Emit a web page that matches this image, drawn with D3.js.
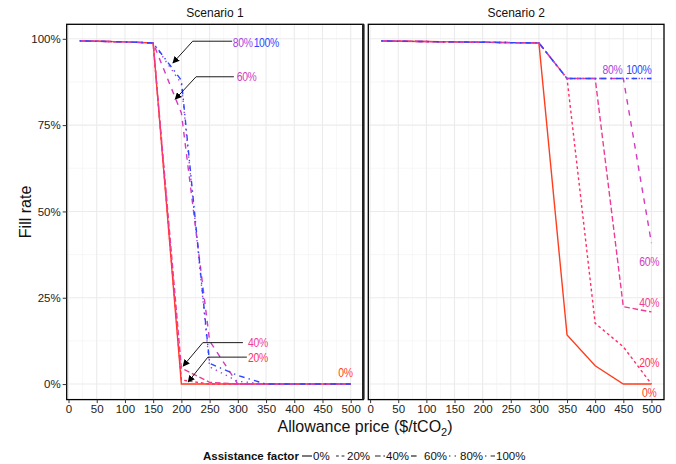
<!DOCTYPE html>
<html>
<head>
<meta charset="utf-8">
<script src="https://cdn.jsdelivr.net/npm/d3@7"></script>
<style>
  body { margin: 0; background: #fff; }
  svg { display: block; font-family: "Liberation Sans", Arial, sans-serif; }
</style>
</head>
<body>
<svg id="chart" width="676" height="464"></svg>
<script>
// price points ($/tCO2)
const prices = [20, 50, 100, 150, 200, 250, 300, 350, 400, 450, 500];
const factors = ["0%", "20%", "40%", "60%", "80%", "100%"];
const colors = ["#ff3d1f", "#ff2f66", "#ee3c96", "#d23cc0", "#a645e0", "#2e46ff"];
// ggplot linetypes: solid, 22, 42, 44, 13, 1343
const dashes = [null, "2.8,2.8", "5.6,2.8", "5.6,5.6", "1.4,4.2", "1.4,4.2,5.6,4.2"];

// fill rate (%) per assistance factor
const s1_0   = [99.4, 99.3, 99.1, 98.8, 0, 0, 0, 0, 0, 0, 0];
const s1_20  = [99.4, 99.3, 99.1, 98.8, 1.2, 0, 0, 0, 0, 0, 0];
const s1_40  = [99.4, 99.3, 99.1, 98.8, 4.6, 0.5, 0, 0, 0, 0, 0];
const s1_60  = [99.4, 99.3, 99.1, 98.8, 78.5, 12.5, 0, 0, 0, 0, 0];
const s1_80  = [99.4, 99.3, 99.1, 98.8, 87, 5, 0.8, 0, 0, 0, 0];
const s1_100 = [99.4, 99.3, 99.1, 98.8, 88, 6, 2.5, 0, 0, 0, 0];

const s2_0   = [99.4, 99.3, 99.2, 99.1, 99, 98.9, 98.8, 14.2, 5.3, 0, 0];
const s2_20  = [99.4, 99.3, 99.2, 99.1, 99, 98.9, 98.8, 88.5, 17.6, 10.8, 0];
const s2_40  = [99.4, 99.3, 99.2, 99.1, 99, 98.9, 98.8, 88.5, 88.5, 22.4, 20.9];
const s2_60  = [99.4, 99.3, 99.2, 99.1, 99, 98.9, 98.8, 88.5, 88.5, 88.5, 40.8];
const s2_80  = [99.4, 99.3, 99.2, 99.1, 99, 98.9, 98.8, 88.5, 88.5, 88.5, 88.5];
const s2_100 = [99.4, 99.3, 99.2, 99.1, 99, 98.9, 98.8, 88.5, 88.5, 88.5, 88.5];

const xTicks = [0, 50, 100, 150, 200, 250, 300, 350, 400, 450, 500];
const yTicks = [0, 25, 50, 75, 100];
const yTickLabels = ["0%", "25%", "50%", "75%", "100%"];

// direct labels: [factor index, x, y, anchor]
const s1Labels = [[4, 291, 99, "start"], [5, 328, 99, "start"], [3, 298, 89, "start"],
                  [2, 318, 12, "start"], [1, 318, 7.8, "start"], [0, 478, 3.5, "start"]];
// arrows: [x label end, x elbow, y, x tip, y tip]
const s1Arrows = [[290, 220, 99.3, 185, 93], [293, 226, 89, 189, 82.5],
                  [309, 238, 12, 203, 5.2], [316, 247, 7.8, 212, 0.6]];
const s2Labels = [[4, 413, 91, "start"], [5, 455, 91, "start"], [3, 496, 35.6, "middle"],
                  [2, 496, 23.5, "middle"], [1, 496, 6.4, "middle"], [0, 496, -2.3, "middle"]];

const panels = [
  { title: "Scenario 1", x0: 66.7, x1: 363.3, series: [s1_0, s1_20, s1_40, s1_60, s1_80, s1_100], labels: s1Labels, arrows: s1Arrows },
  { title: "Scenario 2", x0: 368.3, x1: 664, series: [s2_0, s2_20, s2_40, s2_60, s2_80, s2_100], labels: s2Labels, arrows: [] }
];

const panelTop = 24.3, panelBottom = 399.6;
const svg = d3.select("#chart");

svg.append("defs").append("marker")
    .attr("id", "arrow")
    .attr("viewBox", "0 0 10 10")
    .attr("refX", 9).attr("refY", 5)
    .attr("markerWidth", 7).attr("markerHeight", 7)
    .attr("markerUnits", "userSpaceOnUse")
    .attr("orient", "auto")
    .append("path")
    .attr("d", "M0,0 L10,5 L0,10 z")
    .attr("fill", "#000");

const y = d3.scaleLinear().domain([-4.5, 104.2]).range([panelBottom, panelTop]);

panels.forEach((p, pi) => {
    const x = d3.scaleLinear().domain([-3.2, 522.3]).range([p.x0, p.x1]);
    const g = svg.append("g");

    // grid
    const xMinor = d3.range(25, 525, 50);
    const yMinor = [12.5, 37.5, 62.5, 87.5];
    g.selectAll(".gxm").data(xMinor).enter().append("line")
        .attr("x1", d => x(d)).attr("x2", d => x(d)).attr("y1", panelTop).attr("y2", panelBottom)
        .attr("stroke", "#f2f2f2").attr("stroke-width", 0.6);
    g.selectAll(".gym").data(yMinor).enter().append("line")
        .attr("x1", p.x0).attr("x2", p.x1).attr("y1", d => y(d)).attr("y2", d => y(d))
        .attr("stroke", "#f2f2f2").attr("stroke-width", 0.6);
    g.selectAll(".gx").data(xTicks).enter().append("line")
        .attr("x1", d => x(d)).attr("x2", d => x(d)).attr("y1", panelTop).attr("y2", panelBottom)
        .attr("stroke", "#ebebeb").attr("stroke-width", 1.1);
    g.selectAll(".gy").data(yTicks).enter().append("line")
        .attr("x1", p.x0).attr("x2", p.x1).attr("y1", d => y(d)).attr("y2", d => y(d))
        .attr("stroke", "#ebebeb").attr("stroke-width", 1.1);

    // lines
    const line = d3.line().x((d, i) => x(prices[i])).y(d => y(d));
    p.series.forEach((s, i) => {
        g.append("path")
            .datum(s)
            .attr("d", line)
            .attr("fill", "none")
            .attr("stroke", colors[i])
            .attr("stroke-width", 1.4)
            .attr("stroke-dasharray", dashes[i]);
    });

    // arrows
    p.arrows.forEach(a => {
        g.append("path")
            .attr("d", `M${x(a[0])},${y(a[2])} L${x(a[1])},${y(a[2])} L${x(a[3])},${y(a[4])}`)
            .attr("fill", "none")
            .attr("stroke", "#000")
            .attr("stroke-width", 0.9)
            .attr("marker-end", "url(#arrow)");
    });

    // direct labels (condensed look)
    p.labels.forEach(l => {
        g.append("text")
            .attr("transform", `translate(${x(l[1])},${y(l[2])}) scale(0.8,1)`)
            .attr("dy", "0.35em")
            .attr("text-anchor", l[3])
            .attr("font-size", 13)
            .attr("letter-spacing", -0.4)
            .attr("fill", colors[l[0]])
            .text(factors[l[0]]);
    });

    // border
    g.append("rect")
        .attr("x", p.x0).attr("y", panelTop)
        .attr("width", p.x1 - p.x0).attr("height", panelBottom - panelTop)
        .attr("fill", "none").attr("stroke", "#000").attr("stroke-width", 1.3);
    if (pi === 0) {
        g.append("line").attr("x1", p.x1).attr("x2", p.x1).attr("y1", panelTop).attr("y2", panelBottom)
            .attr("stroke", "#222").attr("stroke-width", 2.6);
    }

    // strip title
    g.append("text")
        .attr("x", (p.x0 + p.x1) / 2).attr("y", 17)
        .attr("text-anchor", "middle")
        .attr("font-size", 12)
        .attr("fill", "#111")
        .text(p.title);

    // x axis
    const xAxis = d3.axisBottom(x).tickValues(xTicks).tickSize(3.5).tickPadding(2).tickFormat(d3.format("d"));
    const ax = g.append("g").attr("transform", `translate(0,${panelBottom})`).call(xAxis);
    ax.select(".domain").remove();
    ax.selectAll("line").attr("stroke", "#333");
    ax.selectAll("text").attr("font-size", 11.5).attr("fill", "#222").attr("font-family", "'Liberation Sans', Arial, sans-serif");

    // y axis (left panel only)
    if (pi === 0) {
        const yAxis = d3.axisLeft(y).tickValues(yTicks).tickSize(4).tickPadding(2)
            .tickFormat((d, i) => yTickLabels[i]);
        const ay = g.append("g").attr("transform", `translate(${p.x0},0)`).call(yAxis);
        ay.select(".domain").remove();
        ay.selectAll("line").attr("stroke", "#333");
        ay.selectAll("text").attr("font-size", 11.5).attr("fill", "#222").attr("font-family", "'Liberation Sans', Arial, sans-serif");
    }
});

// axis titles
const xt = svg.append("text")
    .attr("x", 365).attr("y", 432)
    .attr("text-anchor", "middle")
    .attr("font-size", 16)
    .attr("fill", "#111");
xt.append("tspan").text("Allowance price ($/tCO");
xt.append("tspan").attr("font-size", 11).attr("dy", 4).text("2");
xt.append("tspan").attr("dy", -4).text(")");

svg.append("text")
    .attr("transform", `translate(31,${(panelTop + panelBottom) / 2}) rotate(-90)`)
    .attr("text-anchor", "middle")
    .attr("font-size", 16)
    .attr("fill", "#111")
    .text("Fill rate");

// legend
const lg = svg.append("g").attr("transform", "translate(0,456)");
lg.append("text").attr("x", 203).attr("y", 0).attr("dy", "0.35em")
    .attr("font-size", 11.5).attr("font-weight", "bold").attr("fill", "#111")
    .text("Assistance factor");
const keyX = [302, 336, 375, 411, 449, 485];
factors.forEach((f, i) => {
    lg.append("line")
        .attr("x1", keyX[i]).attr("x2", keyX[i] + 10).attr("y1", 0).attr("y2", 0)
        .attr("stroke", "#222").attr("stroke-width", 1.2)
        .attr("stroke-dasharray", dashes[i]);
    lg.append("text")
        .attr("x", keyX[i] + (i === 3 ? 13 : 11)).attr("y", 0).attr("dy", "0.35em")
        .attr("font-size", 11.5).attr("fill", "#111")
        .text(f);
});
</script>
</body>
</html>
